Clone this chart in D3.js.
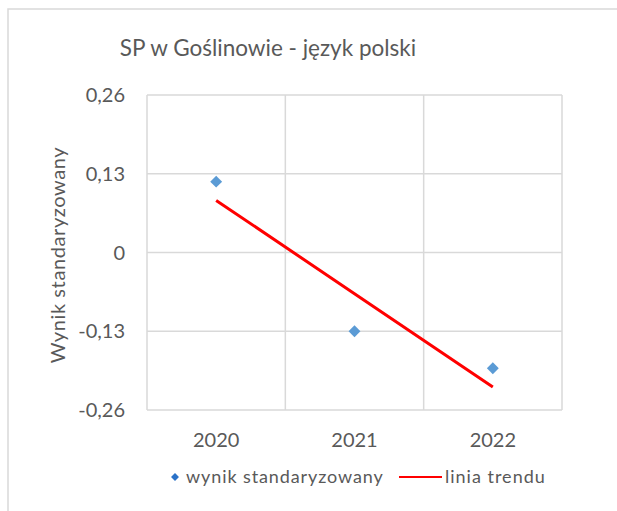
<!DOCTYPE html>
<html><head><meta charset="utf-8">
<script src="https://cdn.jsdelivr.net/npm/d3@7"></script>
<style>body{margin:0;background:#fff}svg{display:block}text{font-family:Lato,"Open Sans",sans-serif;fill:#595959}</style>
</head><body><svg id="c" width="617" height="511"></svg>
<script>
const title = "SP w Goślinowie - język polski";
const yAxisTitle = "Wynik standaryzowany";
const years = ["2020","2021","2022"];
const scores = [0.117, -0.130, -0.191];
const yTicks = [0.26, 0.13, 0, -0.13, -0.26];
const seriesName = "wynik standaryzowany";
const trendName = "linia trendu";

const svg = d3.select("#c");
const m = {l:147, r:562, t:95, b:410};
svg.append("rect").attr("x",8).attr("y",9).attr("width",640).attr("height",540)
  .attr("fill","#fff").attr("stroke","#d9d9d9").attr("stroke-width",1.5);

const x = d3.scaleBand().domain(years).range([m.l,m.r]);
const y = d3.scaleLinear().domain([-0.26,0.26]).range([m.b,m.t]);
const fmt = v => v===0 ? "0" : d3.format(".2f")(v).replace(".",",").replace("−","-");

// grid
const g = svg.append("g");
yTicks.forEach(t=>g.append("line").attr("x1",m.l).attr("x2",m.r).attr("y1",y(t)).attr("y2",y(t)).attr("stroke","#d9d9d9").attr("stroke-width",1.5));
const bounds = years.map(d=>x(d)).concat([m.r]);
bounds.forEach(b=>g.append("line").attr("x1",b).attr("x2",b).attr("y1",m.t).attr("y2",m.b).attr("stroke","#d9d9d9").attr("stroke-width",1.5));

// y labels
svg.append("g").selectAll("text").data(yTicks).join("text")
  .attr("x",125).attr("y",d=>y(d)).attr("dy","0.35em").attr("text-anchor","end")
  .attr("font-size",20).text(fmt);
// x labels
svg.append("g").selectAll("text").data(years).join("text")
  .attr("x",d=>x(d)+x.bandwidth()/2).attr("y",447).attr("text-anchor","middle")
  .attr("font-size",20).text(d=>d);
// titles
svg.append("text").attr("x",268).attr("y",56).attr("text-anchor","middle").attr("font-size",22.5).text(title);
svg.append("text").attr("transform","translate(65,255) rotate(-90)").attr("text-anchor","middle").attr("font-size",20).attr("letter-spacing",0.6).text(yAxisTitle);

// trend line (least squares)
const xs = years.map((d,i)=>i);
const mx = d3.mean(xs), my = d3.mean(scores);
const slope = d3.sum(xs.map((v,i)=>(v-mx)*(scores[i]-my)))/d3.sum(xs.map(v=>(v-mx)**2));
const icpt = my - slope*mx;
const trend = years.map((d,i)=>[x(d)+x.bandwidth()/2, y(icpt+slope*i)]);
svg.append("path").attr("d",d3.line()(trend)).attr("stroke","#ff0000").attr("stroke-width",3).attr("fill","none");

// markers
const diamond = d3.symbol().type(d3.symbolDiamond2).size(90);
svg.append("g").selectAll("path").data(scores).join("path")
  .attr("transform",(d,i)=>`translate(${x(years[i])+x.bandwidth()/2},${y(d)})`)
  .attr("d",diamond).attr("fill","#5b9bd5");

// legend
svg.append("path").attr("transform","translate(175,477)").attr("d",d3.symbol().type(d3.symbolDiamond2).size(40)).attr("fill","#2a72c8");
svg.append("text").attr("x",186).attr("y",483).attr("font-size",18).attr("letter-spacing",0.9).text(seriesName);
svg.append("line").attr("x1",399).attr("x2",442).attr("y1",477).attr("y2",477).attr("stroke","#ff0000").attr("stroke-width",2);
svg.append("text").attr("x",445).attr("y",483).attr("font-size",18).attr("letter-spacing",1).text(trendName);
</script></body></html>
